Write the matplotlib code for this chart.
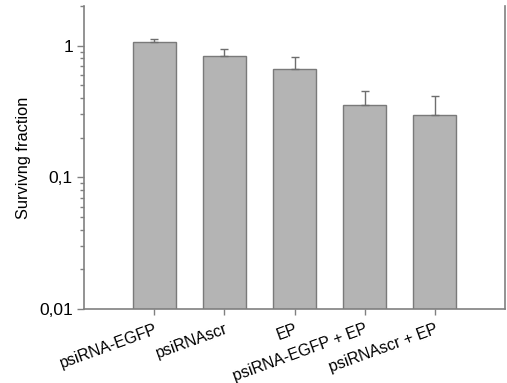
import matplotlib
matplotlib.use("Agg")
import matplotlib.pyplot as plt
from matplotlib.ticker import FixedLocator, FixedFormatter, LogLocator, NullFormatter

categories = ["psiRNA-EGFP", "psiRNAscr", "EP", "psiRNA-EGFP + EP", "psiRNAscr + EP"]
values = [1.06, 0.84, 0.67, 0.356, 0.297]
errors = [0.06, 0.10, 0.15, 0.10, 0.12]
ytick_values = [0.01, 0.1, 1]
ytick_labels = ["0,01", "0,1", "1"]

plt.rcParams['font.family'] = ['Liberation Sans', 'DejaVu Sans']

fig = plt.figure(figsize=(5.07, 3.83), dpi=100)
ax = fig.add_axes([84/507, 1 - 309/383, (505 - 84)/507, (309 - 6)/383])

spine_col = "#808080"
x = list(range(len(categories)))
ax.bar(x, values, width=0.61, color="#b4b4b4", edgecolor="#7a7a7a", linewidth=1.0, zorder=2)
ax.errorbar(x, values, yerr=[[0]*len(errors), errors], fmt="none", ecolor="#6e6e6e",
            elinewidth=1.0, capsize=3, capthick=1.0, zorder=3)

ax.set_yscale("log")
ax.set_ylim(0.01, 2.0)
ax.set_xlim(-1, 5)

ax.yaxis.set_major_locator(FixedLocator(ytick_values))
ax.yaxis.set_major_formatter(FixedFormatter(ytick_labels))
ax.yaxis.set_minor_locator(LogLocator(base=10, subs=[2, 3, 4, 5, 6, 7, 8, 9]))
ax.yaxis.set_minor_formatter(NullFormatter())

ax.set_xticks(x)
ax.set_xticklabels(categories, rotation=20, ha="right", rotation_mode="anchor", fontsize=11.5)

ax.tick_params(axis="y", which="major", length=5, width=1, color=spine_col, labelsize=12.5, direction="out", pad=3)
ax.tick_params(axis="y", which="minor", length=3, width=1, color=spine_col, direction="out")
ax.tick_params(axis="x", which="major", length=4, width=1, color=spine_col, direction="out", pad=5)

for s in ["left", "bottom", "right"]:
    ax.spines[s].set_color(spine_col)
    ax.spines[s].set_linewidth(1.2)
ax.spines["top"].set_visible(False)

ax.set_ylabel("Survivng fraction", fontsize=11.8, labelpad=6)

fig.savefig("out.png", dpi=100)
